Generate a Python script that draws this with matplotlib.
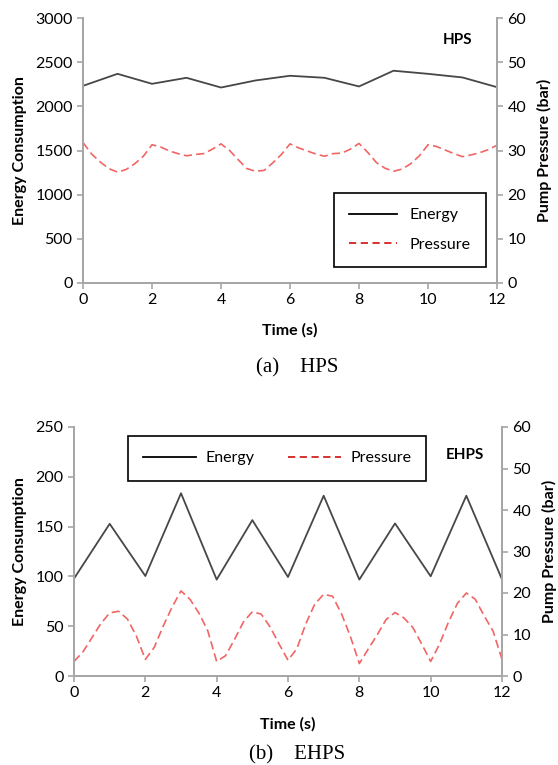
import matplotlib
matplotlib.use('Agg')
import matplotlib.pyplot as plt
from matplotlib.lines import Line2D

plt.rcParams['font.family'] = ['Lato', 'DejaVu Sans']

# Time grid for energy (1 s samples) and pressure (0.25 s samples)
energy_time = list(range(13))
pressure_time = [i * 0.25 for i in range(49)]

# (a) HPS
hps_energy = [2232, 2368, 2255, 2323, 2213, 2293, 2346, 2323, 2225, 2403, 2368, 2327, 2217]
hps_pressure = [31.8, 29.2, 27.4, 25.9, 25.1, 25.7, 27.0, 28.7, 31.3, 30.8, 29.9, 29.3, 28.8,
                29.1, 29.3, 30.3, 31.5, 30.0, 27.9, 25.9, 25.3, 25.5, 27.2, 29.1, 31.5,
                30.6, 29.9, 29.2, 28.7, 29.3, 29.4, 30.3, 31.6, 29.6, 27.3, 26.0, 25.3,
                25.8, 27.0, 28.8, 31.3, 30.9, 30.1, 29.3, 28.6, 29.0, 29.5, 30.2, 31.2]

# (b) EHPS
ehps_energy = [97.8, 152.8, 100.4, 183.5, 96.8, 156.5, 99.4, 181.0, 96.8, 153.2, 100.1, 181.0, 97.0]
ehps_pressure = [3.5, 5.8, 9.2, 12.6, 15.2, 15.6, 13.7, 9.6, 4.0, 6.9, 12.0, 16.6, 20.5,
                 18.5, 15.2, 10.9, 3.5, 4.9, 8.8, 13.0, 15.5, 14.9, 11.8, 7.7, 3.8,
                 6.6, 12.6, 17.3, 19.7, 19.2, 15.0, 9.5, 3.0, 6.5, 9.9, 13.6, 15.3,
                 14.0, 11.7, 7.7, 3.5, 7.7, 13.0, 17.5, 20.0, 18.5, 14.5, 10.8, 4.0]

ENERGY_COLOR = '#474747'
PRESSURE_COLOR = '#f04a4a'
SPINE_COLOR = '#a6a6a6'
W, H = 558, 765


def style_axes(ax, ax2, xpad):
    for a in (ax, ax2):
        a.spines['top'].set_visible(False)
        for s in ('left', 'right', 'bottom'):
            a.spines[s].set_color(SPINE_COLOR)
            a.spines[s].set_linewidth(1.3)
        a.tick_params(colors=SPINE_COLOR, labelcolor='black', labelsize=11.5,
                      length=4, width=1.2, direction='out')
    ax.set_xlim(0, 12)
    ax.set_xticks(range(0, 13, 2))
    ax.set_xlabel('Time (s)', fontsize=11.5, fontweight='bold', labelpad=xpad)


def draw_panel(rect, energy, pressure, ymax, ystep, tag, tag_xy, caption, caption_y, xpad):
    ax = fig.add_axes(rect)
    ax2 = ax.twinx()
    ax.plot(energy_time, energy, color=ENERGY_COLOR, lw=1.3)
    ax2.plot(pressure_time, pressure, color=PRESSURE_COLOR, lw=1.2,
             dashes=(5, 2.5), alpha=0.85)
    ax.set_ylim(0, ymax)
    ax.set_yticks(range(0, ymax + 1, ystep))
    ax2.set_ylim(0, 60)
    ax2.set_yticks(range(0, 61, 10))
    style_axes(ax, ax2, xpad)
    ax.set_ylabel('Energy Consumption', fontsize=11.5, fontweight='bold', labelpad=6)
    ax2.set_ylabel('Pump Pressure (bar)', fontsize=11.5, fontweight='bold', labelpad=8)
    fig.text(tag_xy[0] / W, 1 - tag_xy[1] / H, tag, ha='center', va='center',
             fontsize=11, fontweight='bold')
    fig.text(0.532, 1 - caption_y / H, caption, ha='center', va='center',
             fontsize=15, family='Liberation Serif')
    return ax, ax2


fig = plt.figure(figsize=(W / 100, H / 100), dpi=100)

handles = [Line2D([], [], color='black', lw=1.3),
           Line2D([], [], color='#d42020', lw=1.3, dashes=(4, 2.5))]
labels = ['Energy', 'Pressure']

ax_a, _ = draw_panel([83 / W, 1 - 283 / H, 414 / W, 265 / H], hps_energy, hps_pressure,
                     3000, 500, 'HPS', (458, 40), '(a)    HPS', 368, 11)
leg = ax_a.legend(handles, labels, loc='upper left',
                  bbox_to_anchor=(334 / W, 1 - 193 / H), bbox_transform=fig.transFigure,
                  borderaxespad=0, fontsize=11.5, handlelength=3.0, handletextpad=0.8,
                  labelspacing=0.95, borderpad=0.95, fancybox=False, edgecolor='black',
                  framealpha=1)
leg.get_frame().set_linewidth(1.2)

ax_b, _ = draw_panel([74 / W, 1 - 676 / H, 428 / W, 249 / H], ehps_energy, ehps_pressure,
                     250, 50, 'EHPS', (465, 455), '(b)    EHPS', 755, 12)
leg = ax_b.legend(handles, labels, loc='upper left', ncol=2,
                  bbox_to_anchor=(128 / W, 1 - 436 / H), bbox_transform=fig.transFigure,
                  borderaxespad=0, fontsize=11.5, handlelength=3.3, handletextpad=0.6,
                  columnspacing=2.1, borderpad=0.95, fancybox=False, edgecolor='black',
                  framealpha=1)
leg.get_frame().set_linewidth(1.2)

fig.savefig('out.png', dpi=100)
